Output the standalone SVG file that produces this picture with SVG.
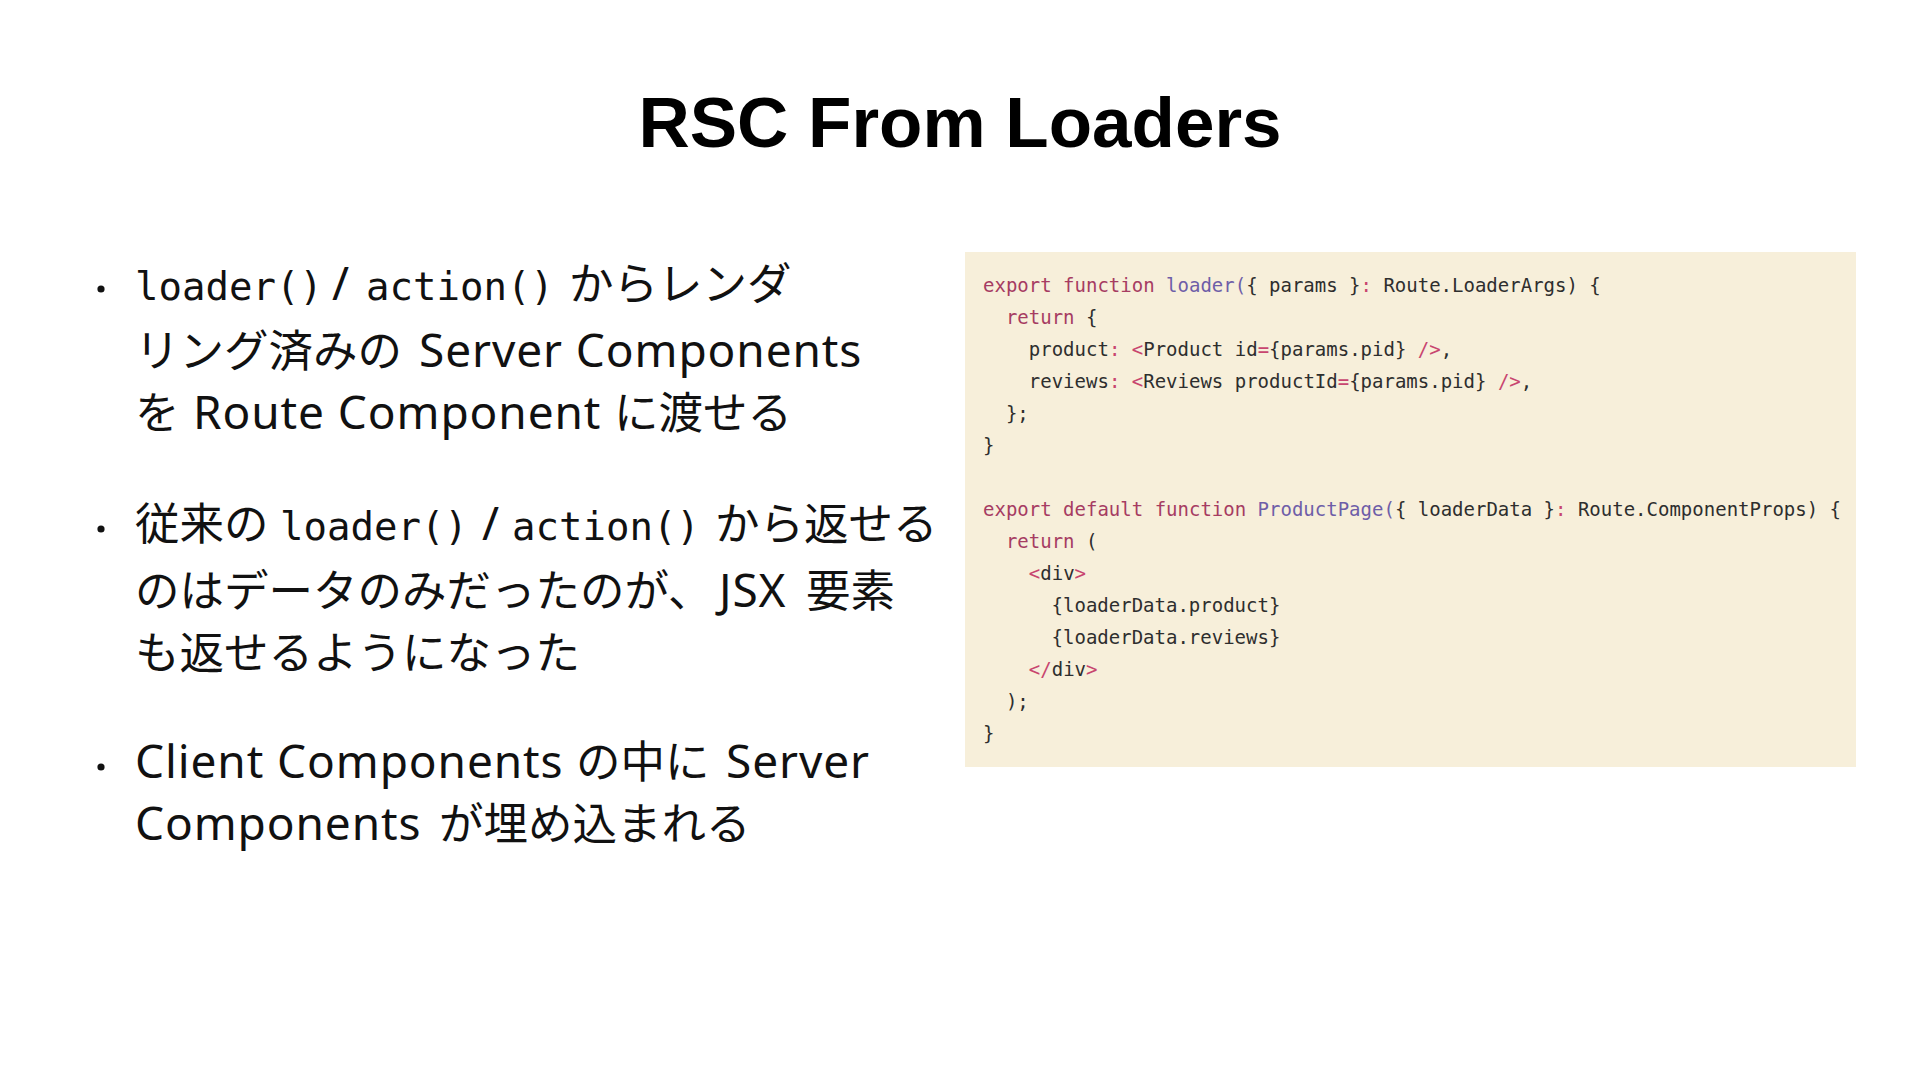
<svg xmlns="http://www.w3.org/2000/svg" width="1920" height="1080" viewBox="0 0 1920 1080">
<style>
.title{font-family:"Liberation Sans","Noto Sans",sans-serif;font-weight:bold;font-size:71px;fill:#000}
.body{font-family:"Noto Sans CJK JP",sans-serif;font-size:44.5px;fill:#111}
.lat{font-family:"Noto Sans","Noto Sans CJK JP",sans-serif;font-size:46px;letter-spacing:0.9px}
.mono{font-family:"DejaVu Sans Mono","Liberation Mono",monospace;font-size:39px;letter-spacing:0}
.code{font-family:"DejaVu Sans Mono","Liberation Mono",monospace;font-size:19px;fill:#2e2e2e;white-space:pre}
.kw{fill:#a63c62}
.fn{fill:#6e5ea8}
.pu{fill:#c8456f}
.dot{fill:#111}
</style>
<rect width="1920" height="1080" fill="#ffffff"/>
<g id="title">
<text class="title" x="960" y="147" text-anchor="middle">RSC From Loaders</text>
</g>
<g id="bullet1">
<circle class="dot" cx="101" cy="289" r="3.6"/>
<text class="body" y="300"><tspan class="mono" x="135">loader()</tspan><tspan class="lat" x="332">/ </tspan><tspan class="mono" x="366">action() </tspan><tspan x="569">からレンダ</tspan></text>
<text class="body" y="367"><tspan x="135">リング済みの </tspan><tspan class="lat" x="419">Server Components</tspan></text>
<text class="body" y="429"><tspan x="135">を </tspan><tspan class="lat" x="193">Route Component </tspan><tspan x="614">に渡せる</tspan></text>
</g>
<g id="bullet2">
<circle class="dot" cx="101" cy="529" r="3.6"/>
<text class="body" y="540"><tspan x="135">従来の </tspan><tspan class="mono" x="280">loader()</tspan><tspan class="lat" x="482">/ </tspan><tspan class="mono" x="512">action() </tspan><tspan x="715">から返せる</tspan></text>
<text class="body" y="607"><tspan x="135">のはデータのみだったのが、</tspan><tspan class="lat" x="719">JSX </tspan><tspan x="806">要素</tspan></text>
<text class="body" y="669"><tspan x="135">も返せるようになった</tspan></text>
</g>
<g id="bullet3">
<circle class="dot" cx="101" cy="767" r="3.6"/>
<text class="body" y="778"><tspan class="lat" x="135">Client Components </tspan><tspan x="576">の中に </tspan><tspan class="lat" x="726">Server</tspan></text>
<text class="body" y="840"><tspan class="lat" x="135">Components </tspan><tspan x="439">が埋め込まれる</tspan></text>
</g>
<g id="code-block">
<rect x="965" y="252" width="891" height="515" fill="#f7efda"/>
<g class="code">
<text x="983" y="292"><tspan class="kw">export</tspan> <tspan class="kw">function</tspan> <tspan class="fn">loader(</tspan>{ params }<tspan class="pu">:</tspan> Route.LoaderArgs) {</text>
<text x="1005.9" y="324"><tspan class="kw">return</tspan> {</text>
<text x="1028.8" y="356">product<tspan class="pu">:</tspan> <tspan class="pu">&lt;</tspan>Product id<tspan class="pu">=</tspan>{params.pid} <tspan class="pu">/&gt;</tspan>,</text>
<text x="1028.8" y="388">reviews<tspan class="pu">:</tspan> <tspan class="pu">&lt;</tspan>Reviews productId<tspan class="pu">=</tspan>{params.pid} <tspan class="pu">/&gt;</tspan>,</text>
<text x="1005.9" y="420">};</text>
<text x="983" y="452">}</text>
<text x="983" y="516"><tspan class="kw">export</tspan> <tspan class="kw">default</tspan> <tspan class="kw">function</tspan> <tspan class="fn">ProductPage(</tspan>{ loaderData }<tspan class="pu">:</tspan> Route.ComponentProps) {</text>
<text x="1005.9" y="548"><tspan class="kw">return</tspan> (</text>
<text x="1028.8" y="580"><tspan class="pu">&lt;</tspan>div<tspan class="pu">&gt;</tspan></text>
<text x="1051.6" y="612">{loaderData.product}</text>
<text x="1051.6" y="644">{loaderData.reviews}</text>
<text x="1028.8" y="676"><tspan class="pu">&lt;/</tspan>div<tspan class="pu">&gt;</tspan></text>
<text x="1005.9" y="708">);</text>
<text x="983" y="740">}</text>
</g>
</g>
</svg>
